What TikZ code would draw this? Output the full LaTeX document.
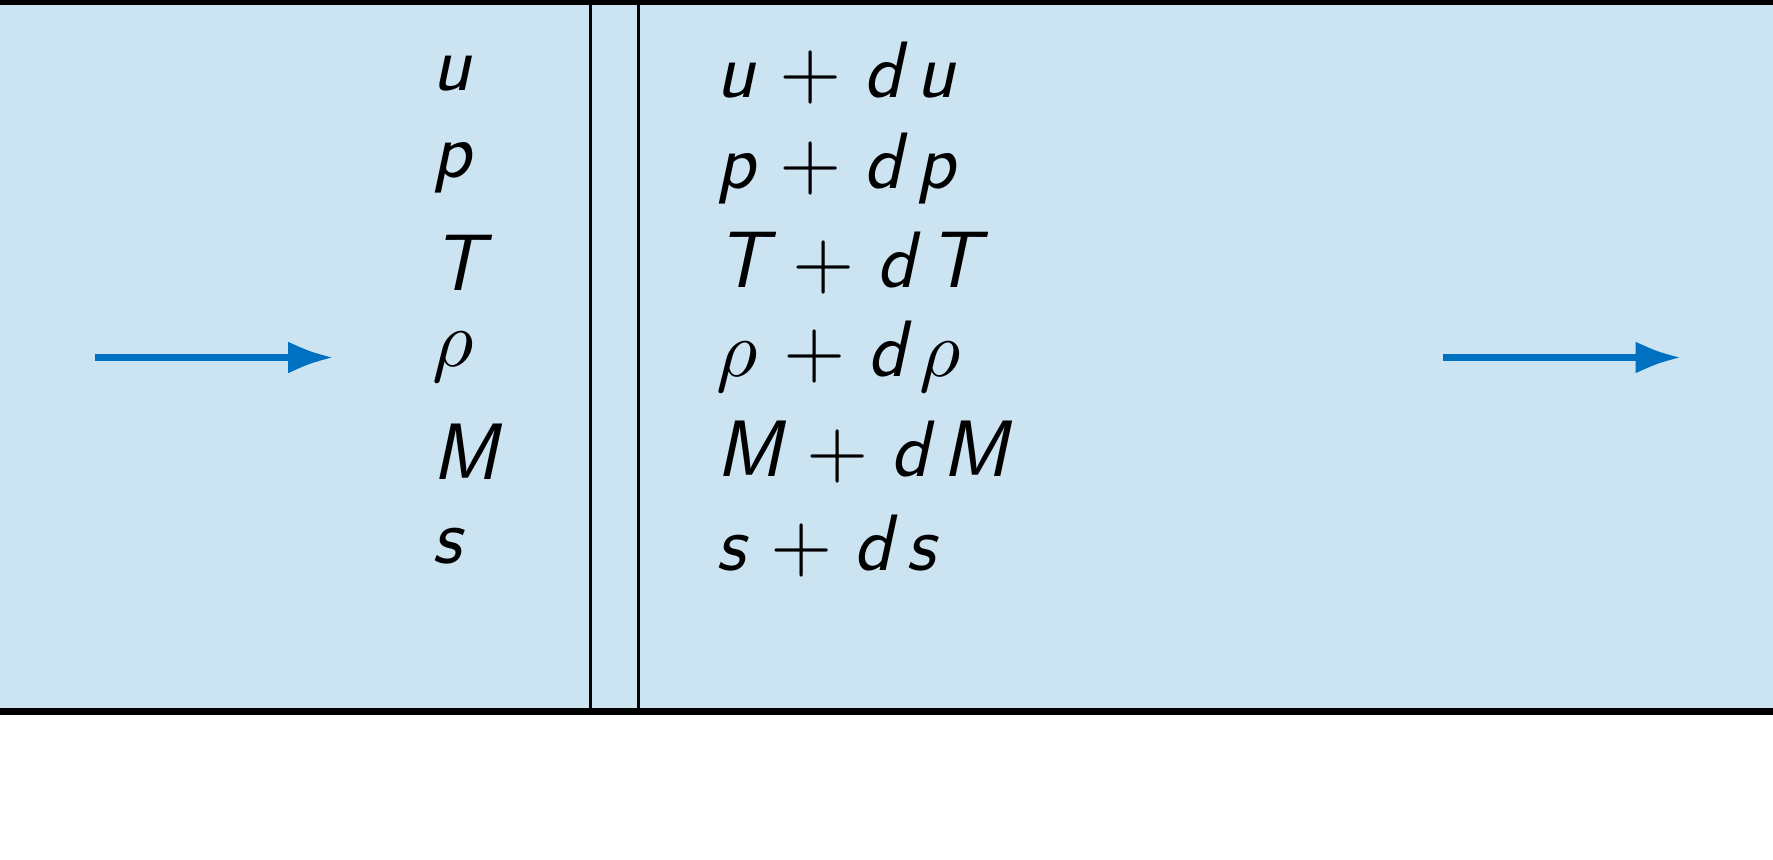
\documentclass[tikz,border=0pt]{standalone}
\usepackage{fontspec}
\usepackage{unicode-math}
\setmathfont{Latin Modern Math}
\usetikzlibrary{calc}
\definecolor{ductfill}{RGB}{204,227,241}
\definecolor{flowblue}{RGB}{0,112,192}
\newcommand{\plusop}{{\hspace{0.31em}$+$\hspace{0.27em}}}
\newcommand{\dsp}{\hspace{0.17em}}
\newcommand{\rhosym}{{$\rho$}}
\tikzset{
  varlabel/.style={anchor=west, inner sep=0pt, font=\sffamily\itshape\fontsize{40}{48}\selectfont},
  wall/.style={line width=3.5pt, black},
  plane/.style={line width=1.5pt, black},
  flowline/.style={line width=3.25pt, flowblue},
  flowhead/.style={fill=flowblue, draw=none}
}
\begin{document}
\begin{tikzpicture}[x=0.5pt,y=-0.5pt]
\useasboundingbox (0,0) rectangle (1773,860);
\begin{scope}
\clip (0,0) rectangle (1773,860);
\fill[ductfill] (0,0) rectangle (1773,711.8);
\coordinate (wtl) at (0,1.2);
\coordinate (wtr) at (1773,1.2);
\coordinate (wbl) at (0,711.8);
\coordinate (wbr) at (1773,711.8);
\coordinate (p1t) at (590.8,0);
\coordinate (p1b) at (590.8,711.8);
\coordinate (p2t) at (638.5,0);
\coordinate (p2b) at (638.5,711.8);
\draw[plane] (p1t) -- (p1b);
\draw[plane] (p2t) -- (p2b);
\draw[wall] (wtl) -- (wtr);
\draw[wall] (wbl) -- (wbr);
\end{scope}
% flow arrows
\coordinate (inS) at (95,357.5);
\coordinate (inE) at (331.5,357.5);
\coordinate (outS) at (1443,357.5);
\coordinate (outE) at (1679,357.5);
\draw[flowline] (inS) -- ($(inE)+(-40,0)$);
\fill[flowhead] ($(inE)+(-43.5,-15.7)$) .. controls ($(inE)+(-22,-6)$) .. (inE)
  .. controls ($(inE)+(-22,6)$) .. ($(inE)+(-43.5,15.7)$) -- cycle;
\draw[flowline] (outS) -- ($(outE)+(-40,0)$);
\fill[flowhead] ($(outE)+(-43.5,-15.7)$) .. controls ($(outE)+(-22,-6)$) .. (outE)
  .. controls ($(outE)+(-22,6)$) .. ($(outE)+(-43.5,15.7)$) -- cycle;
% state labels
\node[varlabel] (u1) at (432,73.5) {u};
\node[varlabel] (p1) at (432,168.1) {p};
\node[varlabel] (T1) at (432,262.7) {T};
\node[varlabel] (r1) at (432,357.3) {\rhosym};
\node[varlabel] (M1) at (432,451.9) {M};
\node[varlabel] (s1) at (432,546.5) {s};
\node[varlabel] (u2) at (716,73.5) {u\plusop d\dsp u};
\node[varlabel] (p2) at (716,168.1) {p\plusop d\dsp p};
\node[varlabel] (T2) at (716,262.7) {T\plusop d\dsp T};
\node[varlabel] (r2) at (716,357.3) {\rhosym\plusop d\dsp\rhosym};
\node[varlabel] (M2) at (716,451.9) {M\plusop d\dsp M};
\node[varlabel] (s2) at (716,546.5) {s\plusop d\dsp s};
\end{tikzpicture}
\end{document}
